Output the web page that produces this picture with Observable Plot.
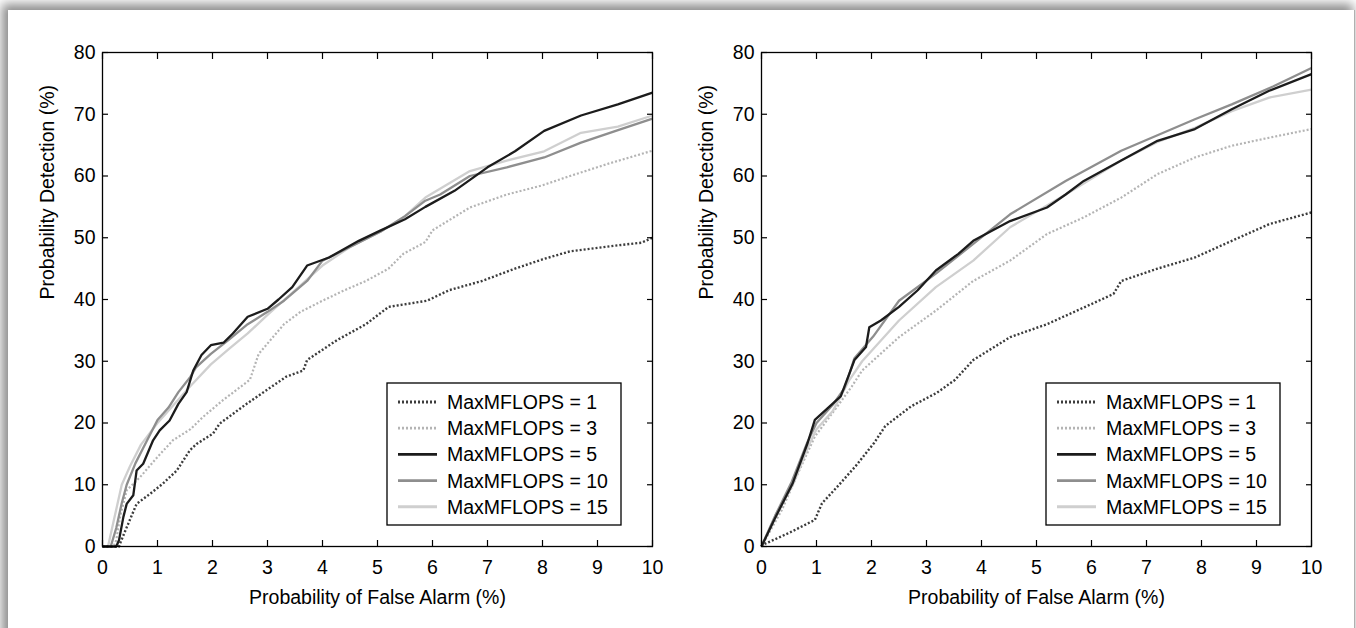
<!DOCTYPE html>
<html><head><meta charset="utf-8">
<script src="https://cdn.jsdelivr.net/npm/d3@7"></script>
<script src="https://cdn.jsdelivr.net/npm/@observablehq/plot@0.6"></script>
<style>
html,body{margin:0;padding:0;width:1356px;height:628px;overflow:hidden;background:#fff;}
#panel{position:absolute;left:8px;top:10px;width:1346px;height:660px;background:#fff;box-shadow:-4px -4px 10px 2px rgba(0,0,0,0.45);border-right:1px solid #b0b0b0;}
.chart{position:absolute;top:0;}
.legend{position:absolute;}
</style></head><body>
<div id="panel"></div>
<div id="left" class="chart" style="left:0px"></div>
<div id="right" class="chart" style="left:680px"></div>
<script>
// ---- data ----
const seriesNames = ["MaxMFLOPS = 1", "MaxMFLOPS = 3", "MaxMFLOPS = 5", "MaxMFLOPS = 10", "MaxMFLOPS = 15"];
const xTicks = [0,1,2,3,4,5,6,7,8,9,10];
const yTicks = [0,10,20,30,40,50,60,70,80];
const xLabel = "Probability of False Alarm (%)";
const yLabel = "Probability Detection (%)";

// Left panel: [false alarm %, detection %]
const left_m1 = [[0,0],[0.3,0],[0.32,0.5],[0.44,3.1],[0.62,6.9],[0.86,8.5],[1.1,10.2],[1.35,12.3],[1.59,15.6],[1.71,16.6],[2.01,18.3],[2.13,19.9],[2.62,23.1],[2.98,25.3],[3.34,27.5],[3.65,28.5],[3.72,30.2],[4.26,33.4],[4.79,36],[5.2,38.8],[5.9,39.8],[6.3,41.5],[6.9,43],[7.5,45],[8.0,46.5],[8.5,47.8],[9.3,48.7],[9.8,49.2],[10,50]];
const left_m3 = [[0,0],[0.2,0],[0.25,1],[0.32,4.8],[0.44,9.1],[0.68,11.2],[1.0,14.5],[1.28,17.2],[1.6,19],[1.83,21],[2.19,23.7],[2.68,27],[2.84,31.2],[3.3,36],[3.6,38],[4.0,39.8],[4.4,41.5],[4.79,43],[5.2,45],[5.47,47.4],[5.87,49.3],[6.0,51.2],[6.68,54.9],[7.35,57],[8.0,58.5],[8.5,60],[9.2,62],[10,64.1]];
const left_m5 = [[0,0],[0.25,0],[0.3,1],[0.38,4.8],[0.44,6.9],[0.56,8.3],[0.62,12.3],[0.74,13.4],[0.92,17.2],[1.04,18.8],[1.22,20.4],[1.38,23.1],[1.53,25],[1.65,28.5],[1.8,31],[1.97,32.6],[2.2,33],[2.37,34.5],[2.64,37.2],[3.0,38.5],[3.2,40],[3.45,42],[3.72,45.5],[4.12,46.8],[4.66,49.5],[5.06,51.2],[5.5,53],[5.87,55],[6.4,57.6],[7.0,61.4],[7.5,64],[8.03,67.3],[8.7,69.8],[9.37,71.6],[10,73.5]];
const left_m10 = [[0,0],[0.15,0],[0.25,3],[0.35,7],[0.44,10],[0.6,13.5],[0.8,17],[1.0,20.5],[1.2,22.5],[1.38,25],[1.6,27.5],[1.7,29],[1.97,31.2],[2.3,33.5],[2.64,36],[3.0,38],[3.3,39.8],[3.72,43],[4.0,46.3],[4.5,48.5],[5.06,51],[5.5,53.5],[5.87,56],[6.14,57],[6.68,60],[7.35,61.4],[8.03,63],[8.7,65.4],[9.4,67.5],[10,69.3]];
const left_m15 = [[0,0],[0.1,0],[0.2,4],[0.35,10],[0.5,13],[0.7,16.5],[1.0,20],[1.3,23],[1.6,26],[1.97,29.5],[2.3,32],[2.64,34.5],[3.0,37.5],[3.5,41.5],[4.0,45.5],[4.5,48.5],[5.06,51],[5.5,53.5],[5.87,56.5],[6.68,60.8],[7.35,62.5],[8.03,64],[8.7,67],[9.37,68],[10,69.8]];

// Right panel
const right_m1 = [[0,0],[0.03,0.3],[0.5,2.2],[0.97,4.3],[1.1,7],[1.38,9.7],[1.71,13],[2.05,16.8],[2.25,19.5],[2.72,22.7],[3.19,24.9],[3.52,27],[3.85,30.2],[4.52,33.9],[5.19,36],[5.86,38.7],[6.4,40.9],[6.54,43],[7.2,45],[7.88,46.8],[8.55,49.5],[9.23,52.2],[10,54.1]];
const right_m3 = [[0,0],[0.37,5.9],[0.64,11.4],[0.97,17.8],[1.38,22.7],[1.64,25.9],[1.83,28.5],[2.5,33.9],[3.17,38.2],[3.85,43],[4.52,46.3],[5.19,50.6],[5.86,53.3],[6.54,56.5],[7.2,60.3],[7.88,63],[8.55,64.9],[9.23,66.2],[10,67.6]];
const right_m5 = [[0,0],[0.23,4.3],[0.57,10.3],[0.84,16.8],[0.97,20.5],[1.24,22.7],[1.44,24.3],[1.58,27.6],[1.69,30.2],[1.9,32.3],[1.96,35.5],[2.17,36.6],[2.5,38.8],[2.84,41.5],[3.17,44.7],[3.58,47.4],[3.85,49.5],[4.18,51.1],[4.52,52.7],[5.19,54.9],[5.53,57],[5.86,59.2],[6.54,62.5],[7.2,65.7],[7.88,67.6],[8.55,70.8],[9.23,73.8],[10,76.5]];
const right_m10 = [[0,0],[0.25,5],[0.55,10.5],[0.84,17],[1.0,20],[1.3,23],[1.5,25.5],[1.6,28],[1.69,30.5],[2.03,34],[2.5,39.8],[3.17,44.2],[3.85,49],[4.52,53.8],[5.53,59.2],[6.54,64.1],[7.88,69.2],[8.55,71.6],[9.3,74.5],[10,77.5]];
const right_m15 = [[0,0],[0.25,5],[0.57,10],[0.84,16],[1.0,19],[1.3,22],[1.6,27],[1.83,30],[2.5,36.6],[3.17,42],[3.85,46.3],[4.52,51.7],[5.53,57],[6.54,62.5],[7.2,65.5],[7.88,67.8],[8.55,70.5],[9.23,72.7],[10,74]];

// ---- styles ----
const styles = [
  {stroke:"#3c3c3c", dash:"2,2", width:2.4},
  {stroke:"#b4b4b4", dash:"2,2", width:2.2},
  {stroke:"#1c1c1c", dash:null, width:2.3},
  {stroke:"#8e8e8e", dash:null, width:2.3},
  {stroke:"#cfcfcf", dash:null, width:2.3}
];
const drawOrder = [1, 4, 3, 0, 2];
const FONT = "'Liberation Sans', Arial, Helvetica, sans-serif";

function chart(series, w, mL, mR) {
  const lines = drawOrder.map(i => Plot.line(series[i], {
    x: d => d[0], y: d => d[1], stroke: styles[i].stroke, strokeWidth: styles[i].width,
    strokeDasharray: styles[i].dash, strokeLinejoin: "round", strokeLinecap: "butt"
  }));
  return Plot.plot({
    width: w, height: 628, marginLeft: mL, marginRight: mR, marginTop: 52, marginBottom: 82,
    x: {domain: [0, 10]}, y: {domain: [0, 80]},
    style: {fontFamily: FONT, fontSize: "19.5px", color: "#000", background: "transparent", overflow: "visible"},
    marks: [
      ...lines,
      Plot.frame({stroke: "#000", strokeWidth: 1.3}),
      Plot.axisX(xTicks, {anchor: "bottom", tickSize: -6, fill: "none", label: null, strokeWidth: 1.2}),
      Plot.axisX(xTicks, {anchor: "top", tickSize: -6, fill: "none", label: null, strokeWidth: 1.2}),
      Plot.axisY(yTicks, {anchor: "left", tickSize: -6, fill: "none", label: null, strokeWidth: 1.2}),
      Plot.axisY(yTicks, {anchor: "right", tickSize: -6, fill: "none", label: null, strokeWidth: 1.2}),
      Plot.axisX(xTicks, {anchor: "bottom", tickSize: 0, tickPadding: 14, label: null}),
      Plot.axisY(yTicks, {anchor: "left", tickSize: 0, tickPadding: 7, label: null}),
      Plot.text([xLabel], {text: d => d, frameAnchor: "bottom", dy: 51, lineAnchor: "middle", fontSize: 19.5}),
      Plot.text([yLabel], {text: d => d, frameAnchor: "left", rotate: -90, dx: -55, fontSize: 19.5})
    ]
  });
}

function legend(left, top) {
  const W = 234, H = 142;
  const svg = d3.create("svg").attr("class", "legend").attr("width", W + 2).attr("height", H + 2)
    .style("left", (left - 1) + "px").style("top", (top - 1) + "px");
  svg.append("rect").attr("x", 1).attr("y", 1).attr("width", W).attr("height", H)
    .attr("fill", "#fff").attr("stroke", "#000").attr("stroke-width", 1.3);
  seriesNames.forEach((name, i) => {
    const y = 1 + 19 + i * 26.2;
    svg.append("line").attr("x1", 12).attr("x2", 51).attr("y1", y).attr("y2", y)
      .attr("stroke", styles[i].stroke).attr("stroke-width", styles[i].width + 0.6)
      .attr("stroke-dasharray", styles[i].dash);
    svg.append("text").attr("x", 61).attr("y", y).attr("dy", "0.36em")
      .attr("font-family", FONT).attr("font-size", "19.5px").attr("fill", "#000").text(name);
  });
  document.body.appendChild(svg.node());
}

document.getElementById("left").appendChild(chart([left_m1, left_m3, left_m5, left_m10, left_m15], 680, 102, 28));
document.getElementById("right").appendChild(chart([right_m1, right_m3, right_m5, right_m10, right_m15], 676, 81, 45));
legend(387, 383);
legend(1046, 383);
</script>
</body></html>
